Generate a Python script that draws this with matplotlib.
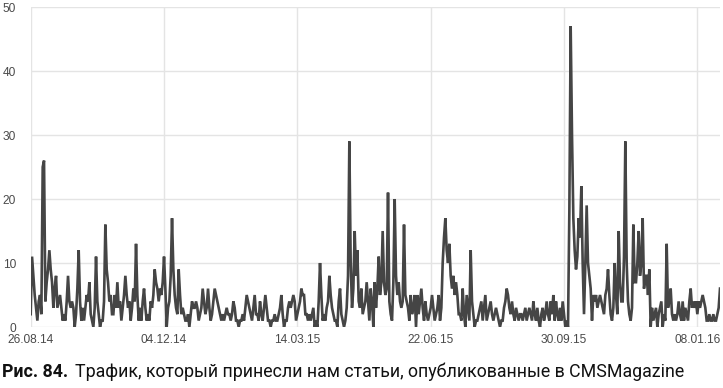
import matplotlib
matplotlib.use("Agg")
import matplotlib.pyplot as plt
import matplotlib.dates as mdates
from matplotlib import font_manager
import numpy as np
import pandas as pd

# ---- data (daily visits) ----
start_date = "2014-08-26"
tick_labels = ["26.08.14", "04.12.14", "14.03.15", "22.06.15", "30.09.15", "08.01.16"]
y_ticks = [0, 10, 20, 30, 40, 50]

visits_aug_nov_2014 = [
    2, 11, 8, 5, 3, 1, 4, 5, 2, 25,
    26, 4, 7, 9, 12, 9, 7, 3, 6, 8,
    3, 4, 5, 3, 1, 2, 1, 4, 8, 4,
    3, 4, 3, 0, 2, 6, 12, 4, 1, 3,
    1, 3, 5, 4, 7, 2, 1, 0, 3, 11,
    4, 2, 0, 1, 1, 4, 16, 9, 7, 4,
    5, 2, 2, 5, 3, 7, 3, 4, 1, 3,
    5, 8, 5, 3, 4, 1, 3, 6, 4, 13,
    5, 1, 3, 1, 4, 6, 3, 1, 2, 1,
    4, 3, 5, 9, 7, 6, 4, 6, 5, 7,
]
visits_dec_2014_mar_2015 = [
    11, 6, 0, 3, 4, 8, 17, 9, 5, 3,
    2, 9, 5, 2, 3, 2, 1, 1, 2, 0,
    2, 4, 3, 3, 4, 3, 1, 2, 3, 6,
    4, 2, 3, 6, 3, 1, 2, 4, 6, 5,
    4, 3, 2, 1, 2, 1, 2, 3, 2, 2,
    1, 2, 4, 3, 1, 1, 0, 1, 1, 2,
    1, 3, 5, 4, 3, 2, 1, 3, 5, 2,
    2, 1, 4, 2, 1, 3, 5, 3, 1, 1,
    0, 1, 1, 2, 1, 1, 2, 3, 5, 2,
    0, 1, 1, 3, 4, 3, 4, 5, 4, 1,
]
visits_mar_jun_2015 = [
    2, 3, 4, 6, 5, 5, 2, 2, 1, 2,
    1, 2, 3, 0, 1, 0, 4, 10, 5, 1,
    2, 1, 3, 4, 8, 5, 3, 2, 1, 1,
    0, 4, 6, 2, 1, 0, 1, 3, 8, 29,
    10, 3, 6, 15, 8, 12, 4, 3, 6, 2,
    3, 4, 7, 4, 1, 6, 4, 0, 7, 3,
    6, 11, 5, 7, 15, 7, 5, 6, 21, 4,
    2, 1, 7, 20, 8, 5, 7, 4, 3, 4,
    16, 5, 4, 3, 1, 5, 2, 3, 5, 0,
    5, 2, 4, 6, 3, 1, 4, 2, 1, 2,
]
visits_jun_sep_2015 = [
    3, 5, 3, 1, 2, 3, 5, 1, 3, 10,
    14, 17, 12, 10, 13, 8, 6, 8, 5, 7,
    5, 2, 2, 1, 6, 2, 0, 5, 3, 1,
    12, 4, 2, 0, 1, 1, 2, 3, 4, 1,
    3, 5, 1, 2, 3, 4, 2, 1, 2, 3,
    2, 1, 0, 1, 1, 3, 4, 6, 5, 3,
    2, 4, 2, 1, 3, 2, 1, 2, 2, 1,
    2, 3, 1, 2, 3, 2, 1, 4, 2, 1,
    3, 1, 0, 2, 3, 1, 2, 4, 2, 1,
    4, 2, 5, 1, 4, 2, 1, 3, 1, 4,
]
visits_oct_2015_jan_2016 = [
    2, 0, 1, 0, 18, 47, 30, 17, 12, 9,
    11, 17, 14, 22, 10, 2, 10, 19, 10, 8,
    6, 1, 5, 4, 5, 3, 4, 5, 4, 3,
    2, 5, 6, 9, 5, 2, 1, 3, 10, 5,
    2, 15, 7, 4, 4, 11, 29, 10, 4, 2,
    1, 3, 16, 7, 7, 10, 15, 8, 10, 17,
    6, 8, 8, 5, 9, 0, 3, 1, 2, 3,
    0, 2, 3, 4, 0, 2, 1, 13, 3, 4,
    6, 2, 1, 2, 1, 2, 4, 2, 1, 4,
    1, 3, 2, 1, 4, 6, 3, 4, 3, 4,
    2, 4, 3, 4, 5, 4, 3, 1, 1, 2,
    1, 1, 2, 1, 1, 2, 3, 6,
]

visits = (visits_aug_nov_2014 + visits_dec_2014_mar_2015 + visits_mar_jun_2015
          + visits_jun_sep_2015 + visits_oct_2015_jan_2016)
dates = pd.date_range(start_date, periods=len(visits), freq="D")
tick_dates = pd.to_datetime(tick_labels, format="%d.%m.%y")

# ---- figure ----
W, H = 723, 388
fig = plt.figure(figsize=(W / 100, H / 100), dpi=100)
fig.patch.set_facecolor("white")
ax = fig.add_axes([30.7 / W, 61 / H, (720 - 30.7) / W, 320 / H])

ax.plot(dates, visits, color="#454545", lw=1.9, solid_joinstyle="miter", zorder=3)

ax.set_xlim(dates[0], dates[-1])
ax.set_ylim(0, 50)
ax.set_yticks(y_ticks)
ax.set_xticks(tick_dates)
ax.set_xticklabels(tick_labels)
ax.grid(True, color="#e4e4e4", lw=1.0, zorder=0)
for s in ax.spines.values():
    s.set_visible(False)
ax.tick_params(axis="both", length=0, labelsize=8.6, colors="#4a4a4a",
               labelfontfamily="Liberation Sans")
ax.tick_params(axis="y", pad=10.5)
ax.tick_params(axis="x", pad=5)
ax.set_axisbelow(True)

# ---- caption (narrow font if available) ----
names = {f.name for f in font_manager.fontManager.ttflist}
cap_family = "Liberation Sans Narrow" if "Liberation Sans Narrow" in names else "Roboto"

cap_y = 1 - 372 / H
base = 11.5
t1 = fig.text(2 / W, cap_y, "Рис. 84.", fontsize=base, fontweight="bold",
              family=cap_family, color="#111111", va="center", ha="left")
t2 = fig.text(0, cap_y,
              "Трафик, который принесли нам статьи, опубликованные в CMSMagazine",
              fontsize=base, family=cap_family, color="#111111", va="center", ha="left")
fig.canvas.draw()
r = fig.canvas.get_renderer()
bb = t1.get_window_extent(r)
t2.set_x((bb.x1 + 8) / W)
fig.canvas.draw()
bb2 = t2.get_window_extent(r)
scale = (690 - 2) / (bb2.x1 - 2)
t1.set_fontsize(base * scale)
t2.set_fontsize(base * scale)
fig.canvas.draw()
bb = t1.get_window_extent(r)
t2.set_x((bb.x1 + 7) / W)

fig.savefig("out.png", dpi=100, facecolor="white")
